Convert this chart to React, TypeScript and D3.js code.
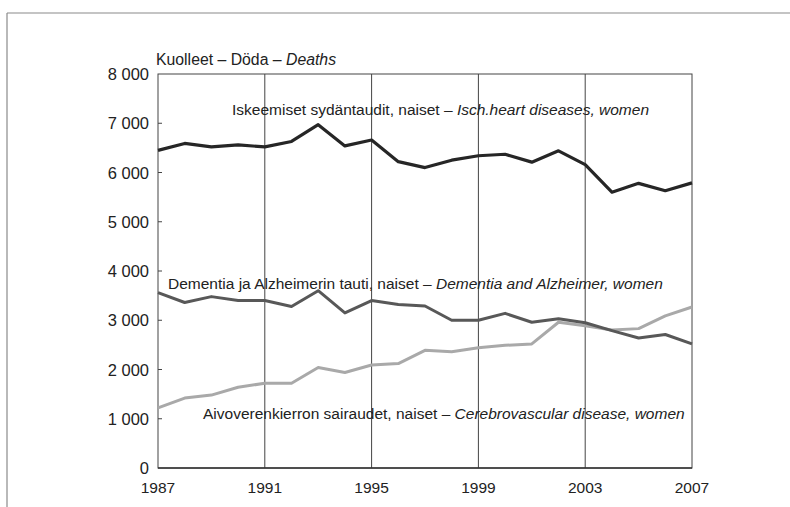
import * as d3 from "d3";

const years = d3.range(1987, 2008);
const heartWomen = [
  6450, 6590, 6520, 6560, 6520, 6630, 6970, 6540, 6660, 6220, 6100, 6250, 6340,
  6370, 6210, 6440, 6160, 5600, 5780, 5630, 5790,
];
const dementiaWomen = [
  3560, 3360, 3480, 3400, 3400, 3280, 3600, 3150, 3400, 3320, 3290, 3000, 3000,
  3140, 2960, 3030, 2950, 2790, 2640, 2710, 2520,
];
const cerebroWomen = [
  1220, 1420, 1480, 1640, 1720, 1720, 2040, 1940, 2090, 2120, 2390, 2360, 2440,
  2490, 2520, 2960, 2890, 2800, 2830, 3090, 3270,
];
const yTicks = [0, 1000, 2000, 3000, 4000, 5000, 6000, 7000, 8000];
const xTicks = [1987, 1991, 1995, 1999, 2003, 2007];

const W = 790;
const H = 507;
const FONT = "'Liberation Sans Narrow', 'Arial Narrow', 'Liberation Sans', sans-serif";
const margin = { top: 74, right: 98, bottom: 39, left: 158 };

const fmt = (v: number) => d3.format(",")(v).replace(/,/g, " ");

export default function App() {
  const x = d3
    .scaleLinear()
    .domain([1987, 2007])
    .range([margin.left, W - margin.right]);
  const y = d3
    .scaleLinear()
    .domain([0, 8000])
    .range([H - margin.bottom, margin.top]);

  const line = (vals: number[]) =>
    d3
      .line<number>()
      .x((_, i) => x(years[i]))
      .y((d) => y(d))(vals) ?? "";

  const series = [
    { vals: cerebroWomen, color: "#a9a9a9", width: 3 },
    { vals: dementiaWomen, color: "#585858", width: 3 },
    { vals: heartWomen, color: "#262626", width: 3.2 },
  ];

  const x0 = x(1987);
  const x1 = x(2007);
  const yTop = y(8000);
  const yBot = y(0);

  return (
    <svg
      width={W}
      height={H}
      style={{ position: "absolute", left: 0, top: 0, background: "#fff" }}
      fontFamily={FONT}
    >
      {/* outer frame */}
      <line x1={7} x2={W} y1={13} y2={13} stroke="#8a8a8a" strokeWidth={1.2} />
      <line x1={7} x2={7} y1={13} y2={H} stroke="#8a8a8a" strokeWidth={1.2} />

      {/* vertical gridlines */}
      {xTicks.slice(1, -1).map((t) => (
        <line
          key={t}
          x1={x(t)}
          x2={x(t)}
          y1={yTop}
          y2={yBot}
          stroke="#444"
          strokeWidth={1}
        />
      ))}

      {/* plot frame */}
      <rect
        x={x0}
        y={yTop}
        width={x1 - x0}
        height={yBot - yTop}
        fill="none"
        stroke="#444"
        strokeWidth={1}
      />
      <line x1={x0} x2={x1} y1={yBot} y2={yBot} stroke="#333" strokeWidth={1.4} />

      {/* y ticks + labels */}
      {yTicks.map((t) => (
        <g key={t}>
          {t > 0 && t < 8000 && (
            <line x1={x0} x2={x0 + 4} y1={y(t)} y2={y(t)} stroke="#444" />
          )}
          <text
            x={x0 - 9}
            y={y(t)}
            dy="0.37em"
            textAnchor="end"
            fontSize={16.5}
            fill="#222"
          >
            {fmt(t)}
          </text>
        </g>
      ))}

      {/* x labels */}
      {xTicks.map((t) => (
        <text
          key={t}
          x={x(t)}
          y={yBot + 25}
          textAnchor="middle"
          fontSize={15.5}
          fill="#222"
        >
          {t}
        </text>
      ))}

      {/* series */}
      {series.map((s, i) => (
        <path
          key={i}
          d={line(s.vals)}
          fill="none"
          stroke={s.color}
          strokeWidth={s.width}
          strokeLinejoin="round"
        />
      ))}

      {/* texts */}
      <text x={156} y={65} fontSize={15.8} fill="#222">
        Kuolleet – Döda – <tspan fontStyle="italic">Deaths</tspan>
      </text>
      <text x={232} y={115} fontSize={15.5} fill="#222">
        Iskeemiset sydäntaudit, naiset –{" "}
        <tspan fontStyle="italic">Isch.heart diseases, women</tspan>
      </text>
      <text x={168} y={289} fontSize={15.5} fill="#222">
        Dementia ja Alzheimerin tauti, naiset –{" "}
        <tspan fontStyle="italic">Dementia and Alzheimer, women</tspan>
      </text>
      <text x={203} y={419} fontSize={15.5} fill="#222">
        Aivoverenkierron sairaudet, naiset –{" "}
        <tspan fontStyle="italic">Cerebrovascular disease, women</tspan>
      </text>
    </svg>
  );
}
